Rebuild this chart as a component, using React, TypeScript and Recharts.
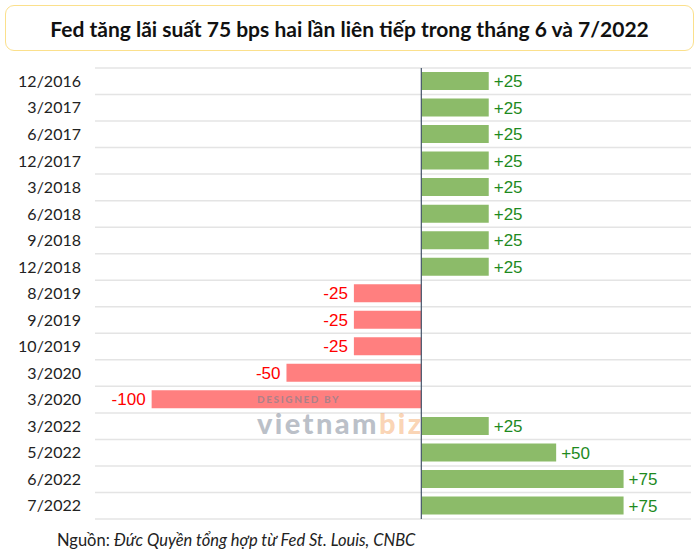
import React from "react";
import { BarChart, Bar, XAxis, YAxis, Cell, LabelList, ReferenceLine } from "recharts";

const categories = [
  "12/2016", "3/2017", "6/2017", "12/2017", "3/2018", "6/2018", "9/2018", "12/2018",
  "8/2019", "9/2019", "10/2019", "3/2020", "3/2020 ", "3/2022", "5/2022", "6/2022", "7/2022",
];
const changes = [25, 25, 25, 25, 25, 25, 25, 25, -25, -25, -25, -50, -100, 25, 50, 75, 75];

const title = "Fed tăng lãi suất 75 bps hai lần liên tiếp trong tháng 6 và 7/2022";
const sourceLabel = "Nguồn: ";
const sourceText = "Đức Quyền tổng hợp từ Fed St. Louis, CNBC";

const data = categories.map((c, i) => ({ date: c, value: changes[i] }));

const GREEN = "#8cbb69";
const RED = "#ff7f7f";

const ValueLabel = (props: any) => {
  const { x, y, width, height, value } = props;
  const left = Math.min(x, x + width);
  const right = Math.max(x, x + width);
  const pos = value > 0;
  const tx = pos ? right + 5 : left - 6;
  return (
    <text
      x={tx}
      y={y + height / 2}
      dy="0.36em"
      textAnchor={pos ? "start" : "end"}
      fill={pos ? "#1e8a1e" : "#ff0000"}
      fontSize={17}
      fontFamily="'Liberation Sans', Arial, sans-serif"
    >
      {pos ? `+${value}` : `${value}`}
    </text>
  );
};

export default function App() {
  return (
    <div style={{ position: "absolute", left: 0, top: 0, width: 700, height: 560, background: "#fff", overflow: "hidden" }}>
      <div
        style={{
          position: "absolute",
          left: 5,
          top: 5,
          width: 687,
          height: 44,
          border: "1.5px solid #fbe08c",
          borderRadius: 9,
          display: "flex",
          alignItems: "center",
          justifyContent: "center",
          fontFamily: "Lato, sans-serif",
          fontWeight: 700,
          fontSize: 21,
          color: "#111",
        }}
      >
        {title}
      </div>
      <div style={{ position: "absolute", left: 0, top: 0 }}>
        <BarChart
          width={700}
          height={560}
          data={data}
          layout="vertical"
          margin={{ top: 68, right: 9, bottom: 41, left: 35 }}
          barSize={18}
        >
          <XAxis type="number" domain={[-121, 100]} hide allowDataOverflow />
          <YAxis
            type="category"
            dataKey="date"
            width={60}
            axisLine={false}
            tickLine={false}
            tickSize={0}
            tickMargin={14}
            interval={0}
            tick={{ fill: "#222", fontSize: 16, fontFamily: "Lato, sans-serif" }}
            tickFormatter={(v: string) => v.trim()}
          />
          {categories.map((c) => (
            <ReferenceLine key={"g" + c} y={c} position="start" stroke="#e4e4e4" strokeWidth={1.5} />
          ))}
          <ReferenceLine y={categories[categories.length - 1]} position="end" stroke="#e4e4e4" strokeWidth={1.5} />
          <Bar dataKey="value" isAnimationActive={false}>
            {data.map((d, i) => (
              <Cell key={i} fill={d.value > 0 ? GREEN : RED} />
            ))}
            <LabelList dataKey="value" content={ValueLabel} />
          </Bar>
          <ReferenceLine x={0} stroke="#44546a" strokeWidth={1.2} />
        </BarChart>
      </div>
      <div style={{ position: "absolute", left: 257, top: 393, lineHeight: "normal", fontFamily: "Lato, sans-serif", fontWeight: 900, fontSize: 10, letterSpacing: 1.6, color: "rgba(120,130,145,0.6)" }}>
        DESIGNED BY
      </div>
      <div style={{ position: "absolute", left: 257, top: 405, lineHeight: "normal", fontFamily: "Lato, sans-serif", fontWeight: 900, fontSize: 29, letterSpacing: 2.4, color: "rgba(120,130,145,0.5)" }}>
        vietnam<span style={{ color: "rgba(245,160,90,0.45)" }}>biz</span>
      </div>
      <div style={{ position: "absolute", left: 57, top: 530, fontFamily: "Lato, sans-serif", fontSize: 16.5, color: "#222" }}>
        {sourceLabel}
        <span style={{ fontStyle: "italic" }}>{sourceText}</span>
      </div>
    </div>
  );
}
